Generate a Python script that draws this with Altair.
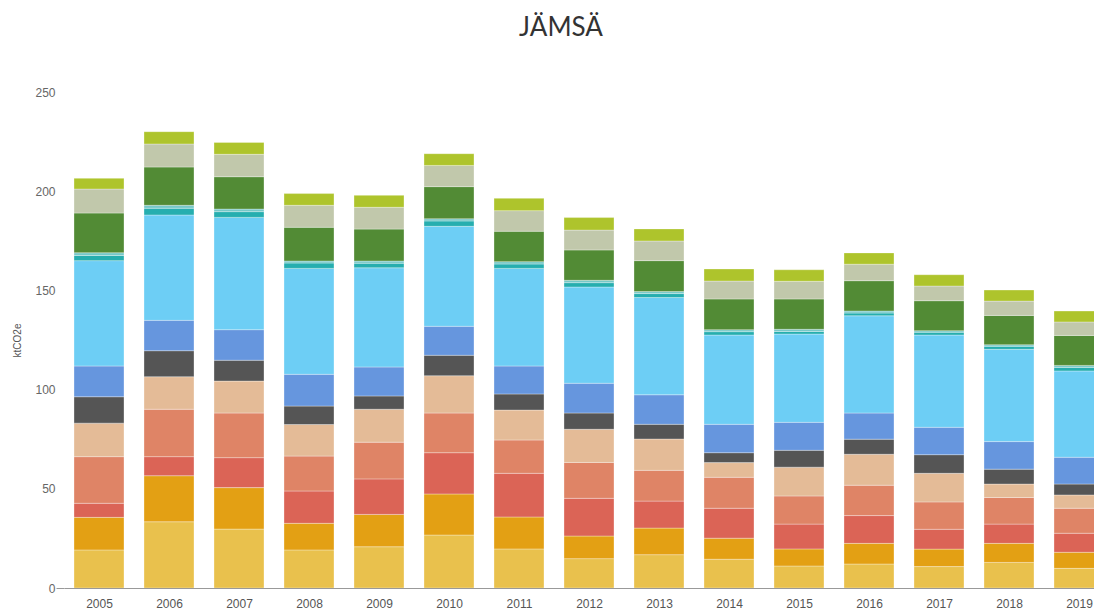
import altair as alt
import pandas as pd

years = [2005, 2006, 2007, 2008, 2009, 2010, 2011, 2012, 2013, 2014, 2015, 2016, 2017, 2018, 2019]

series_names = [
    "Kaukolämpö", "Öljylämmitys", "Sähkölämmitys", "Muu lämmitys", "Kulutussähkö",
    "Teollisuus", "Työkoneet", "Tieliikenne", "Raideliikenne", "Vesiliikenne",
    "Maatalous", "Jätteiden käsittely", "F-kaasut",
]

colors = [
    "#E9C14D", "#E3A014", "#DB6456", "#DF8466", "#E4BB97",
    "#555555", "#6696DE", "#6DCEF5", "#26AEAF", "#76C8C8",
    "#528B35", "#C1C8AB", "#AEC42C",
]

kaukolampo = [19.2, 33.4, 29.7, 19.2, 20.8, 26.7, 19.7, 14.8, 16.8, 14.5, 11.1, 12.1, 10.8, 12.9, 9.9]
oljy = [16.4, 23.2, 20.9, 13.4, 16.3, 20.7, 16.1, 11.4, 13.4, 10.6, 8.6, 10.4, 8.8, 9.6, 8.1]
sahkolammitys = [7.1, 9.6, 15.1, 16.3, 17.9, 20.8, 22.0, 19.0, 13.6, 15.1, 12.5, 14.0, 10.0, 9.7, 9.6]
muu_lammitys = [23.5, 23.9, 22.5, 17.6, 18.5, 20.0, 16.8, 18.1, 15.5, 15.6, 14.2, 15.3, 13.8, 13.4, 12.6]
kulutussahko = [16.9, 16.4, 16.1, 15.9, 16.6, 18.8, 15.1, 16.7, 15.8, 7.4, 14.5, 15.6, 14.4, 6.8, 6.7]
teollisuus = [13.3, 13.1, 10.5, 9.3, 6.7, 10.3, 8.1, 8.2, 7.4, 5.0, 8.5, 7.6, 9.4, 7.5, 5.5]
tyokoneet = [15.5, 15.3, 15.4, 16.0, 14.6, 14.6, 14.1, 15.0, 14.9, 14.3, 14.1, 13.2, 13.8, 13.9, 13.5]
tieliikenne = [53.1, 53.1, 56.6, 53.4, 50.0, 50.4, 49.2, 48.5, 49.0, 45.0, 44.5, 49.0, 46.5, 46.5, 43.5]
raideliikenne = [2.6, 3.4, 2.9, 2.7, 2.3, 2.7, 2.2, 2.2, 2.0, 1.7, 1.3, 1.4, 1.4, 1.5, 1.8]
vesiliikenne = [1.4, 1.5, 1.3, 1.0, 1.1, 1.1, 1.2, 1.2, 1.0, 1.0, 1.1, 1.0, 0.8, 0.8, 1.0]
maatalous = [20.0, 19.3, 16.3, 17.0, 16.1, 16.2, 15.3, 15.3, 15.6, 15.5, 15.3, 15.3, 15.1, 14.8, 15.1]
jatteet = [12.1, 11.6, 11.3, 11.1, 11.0, 10.7, 10.4, 10.0, 9.9, 9.0, 8.9, 8.3, 7.4, 7.2, 6.8]
fkaasut = [5.4, 6.2, 6.0, 5.9, 6.0, 5.9, 6.2, 6.3, 6.1, 6.1, 5.8, 5.7, 5.7, 5.6, 5.5]

series_values = [
    kaukolampo, oljy, sahkolammitys, muu_lammitys, kulutussahko, teollisuus,
    tyokoneet, tieliikenne, raideliikenne, vesiliikenne, maatalous, jatteet, fkaasut,
]

rows = []
for i, (name, vals) in enumerate(zip(series_names, series_values)):
    for yr, v in zip(years, vals):
        rows.append({"vuosi": yr, "sektori": name, "idx": i, "ktCO2e": v})
df = pd.DataFrame(rows)

chart = alt.Chart(df).mark_bar(
    width=50, clip=True, stroke="white", strokeWidth=0.7, strokeOpacity=0.45
).encode(
    x=alt.X(
        "vuosi:Q",
        scale=alt.Scale(domain=[2004.5, 2019.2143], nice=False, zero=False, padding=0),
        axis=alt.Axis(
            title=None, values=years, format="d", labelAngle=0, ticks=False,
            grid=False, domainColor="#999999", labelFlush=False, labelOverlap=False,
            labelColor="#555555", labelFontSize=12, labelPadding=10,
            labelFont="Liberation Sans",
        ),
    ),
    y=alt.Y(
        "ktCO2e:Q",
        stack="zero",
        scale=alt.Scale(domain=[0, 250], nice=False, padding=0),
        axis=alt.Axis(
            title="ktCO2e", values=[0, 50, 100, 150, 200, 250], grid=False,
            domain=False, tickSize=8,
            tickColor=alt.condition("datum.value == 0", alt.value("#999999"), alt.value("transparent")),
            labelPadding=1, labelColor="#666666", labelFontSize=12,
            labelFont="Liberation Sans", titleFont="Liberation Sans",
            titleFontSize=10, titleFontWeight="normal", titleColor="#555555",
            titleX=-42, titleY=248,
        ),
    ),
    color=alt.Color(
        "sektori:N",
        scale=alt.Scale(domain=series_names, range=colors),
        legend=None,
    ),
    order=alt.Order("idx:Q"),
).properties(
    width=1030,
    height=496,
    autosize=alt.AutoSizeParams(type="none"),
    padding={"left": 56, "top": 84, "right": 0, "bottom": 21},
    title=alt.TitleParams(
        text="JÄMSÄ", font="Lato", fontSize=26, fontWeight="normal",
        color="#333333", anchor="middle", frame="group", dx=-18, offset=45,
    ),
).configure_view(stroke=None)

chart.save("out.html", embed_options={"renderer": "svg", "actions": False})
